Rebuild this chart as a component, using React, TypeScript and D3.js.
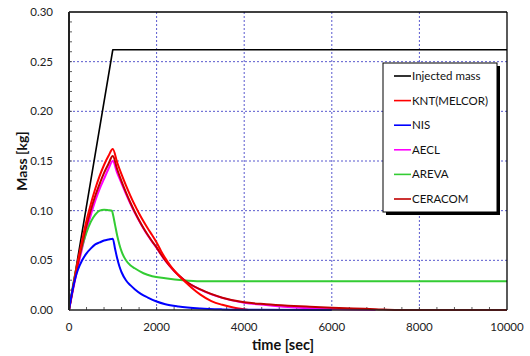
import React from "react";
import * as d3 from "d3";

const xTicks = [0, 2000, 4000, 6000, 8000, 10000];
const yTicks = [0, 0.05, 0.1, 0.15, 0.2, 0.25, 0.3];

const seriesNames = ["Injected mass", "KNT(MELCOR)", "NIS", "AECL", "AREVA", "CERACOM"];
const seriesColors = ["#000000", "#ff0000", "#0000ff", "#ff00ff", "#33cc33", "#c00000"];

const injected: [number, number][] = [[0, 0], [1000, 0.262], [10000, 0.262]];

const knt: [number, number][] = [
  [0, 0], [100, 0.025], [200, 0.049], [300, 0.07], [400, 0.09], [500, 0.107], [600, 0.122],
  [700, 0.135], [800, 0.146], [900, 0.155], [1000, 0.162], [1100, 0.1485], [1200, 0.1365],
  [1300, 0.1254], [1400, 0.1152], [1500, 0.1058], [1600, 0.0972], [1700, 0.0893],
  [1800, 0.082], [1900, 0.0753], [2000, 0.068], [2100, 0.0595], [2200, 0.052],
  [2300, 0.0455], [2400, 0.0398], [2500, 0.0348], [2650, 0.0285], [2800, 0.0225],
  [3000, 0.0155], [3250, 0.009], [3500, 0.0052], [3750, 0.0026], [4000, 0.0007], [4100, 0],
];

const ceracom: [number, number][] = [
  [0, 0], [100, 0.024], [200, 0.046], [300, 0.066], [400, 0.085], [500, 0.101], [600, 0.115],
  [700, 0.127], [800, 0.138], [900, 0.147], [1000, 0.155], [1100, 0.1417], [1200, 0.1295],
  [1300, 0.1184], [1400, 0.1082], [1500, 0.0989], [1600, 0.0904], [1700, 0.0826],
  [1800, 0.0755], [1900, 0.069], [2000, 0.063], [2100, 0.0561], [2200, 0.0499],
  [2300, 0.0444], [2400, 0.0395], [2500, 0.0352], [2650, 0.0295], [3000, 0.0207],
  [3500, 0.0124], [4000, 0.0077], [4500, 0.0058], [5000, 0.0044], [5500, 0.0033],
  [6000, 0.0023], [6500, 0.0015], [7000, 0.0008], [7500, 0], [10000, 0],
];

const aecl: [number, number][] = [
  [0, 0], [100, 0.022], [200, 0.043], [300, 0.062], [400, 0.08], [500, 0.096], [600, 0.11],
  [700, 0.122], [800, 0.132], [900, 0.142], [1000, 0.15], [1100, 0.138], [1200, 0.1275],
  [1300, 0.117], [1400, 0.1072], [1500, 0.098], [1600, 0.0898], [1700, 0.0821],
  [1800, 0.075], [1900, 0.0686], [2000, 0.0626], [2200, 0.0496], [2400, 0.0393],
  [2650, 0.0293], [3000, 0.0205], [3500, 0.0122], [4000, 0.0074], [4500, 0.005],
  [5000, 0.003], [6000, 0.001], [7000, 0],
];

const nis: [number, number][] = [
  [0, 0], [50, 0.013], [100, 0.024], [150, 0.033], [200, 0.04], [300, 0.05], [400, 0.057],
  [500, 0.062], [600, 0.066], [700, 0.068], [800, 0.07], [900, 0.071], [1000, 0.0718],
  [1050, 0.062], [1100, 0.052], [1150, 0.044], [1200, 0.038], [1300, 0.03], [1400, 0.025],
  [1500, 0.021], [1650, 0.016], [1800, 0.0125], [2000, 0.0085], [2200, 0.0058],
  [2500, 0.0035], [3000, 0.0015], [3500, 0.0006], [4000, 0.0002], [6000, 0],
];

const areva: [number, number][] = [
  [0, 0], [50, 0.014], [100, 0.027], [150, 0.038], [200, 0.048], [300, 0.064], [400, 0.078],
  [500, 0.089], [600, 0.096], [700, 0.1], [800, 0.101], [900, 0.1005], [980, 0.1],
  [1000, 0.097], [1050, 0.086], [1100, 0.075], [1150, 0.066], [1200, 0.059], [1300, 0.05],
  [1400, 0.045], [1500, 0.042], [1700, 0.037], [1900, 0.034], [2200, 0.032], [2600, 0.03],
  [3000, 0.029], [10000, 0.029],
];

const W = 530;
const H = 356;
const M = { left: 69, right: 507, top: 12, bottom: 310 };

export default function App() {
  const x = d3.scaleLinear().domain([0, 10000]).range([M.left, M.right]);
  const y = d3.scaleLinear().domain([0, 0.3]).range([M.bottom, M.top]);
  const smooth = d3
    .line<[number, number]>()
    .x((d) => x(d[0]))
    .y((d) => y(d[1]))
    .curve(d3.curveMonotoneX);
  const straight = d3
    .line<[number, number]>()
    .x((d) => x(d[0]))
    .y((d) => y(d[1]));

  const xMinor = d3.range(400, 10000, 400);
  const yMinor = d3.range(1, 30).map((i) => i / 100);
  const fmtY = d3.format(".2f");

  const draws: { data: [number, number][]; color: string; w: number; lin?: boolean }[] = [
    { data: injected, color: seriesColors[0], w: 1.6, lin: true },
    { data: aecl, color: seriesColors[3], w: 2 },
    { data: areva, color: seriesColors[4], w: 2 },
    { data: ceracom, color: seriesColors[5], w: 2 },
    { data: knt, color: seriesColors[1], w: 2 },
    { data: nis, color: seriesColors[2], w: 2 },
  ];

  const font = "Lato, 'Open Sans', sans-serif";
  const legX = 383;
  const legY = 63;
  const legW = 114;
  const legH = 149;

  return (
    <svg
      width={W}
      height={H}
      style={{ position: "absolute", left: 0, top: 0, background: "#fff" }}
      fontFamily={font}
    >
      <rect x={0} y={0} width={W} height={H} fill="#fff" />
      {xTicks.slice(1, -1).map((t) => (
        <line key={"gx" + t} x1={x(t)} x2={x(t)} y1={M.top} y2={M.bottom}
          stroke="#4646c8" strokeWidth={0.9} strokeDasharray="2,2" />
      ))}
      {yTicks.slice(1, -1).map((t) => (
        <line key={"gy" + t} x1={M.left} x2={M.right} y1={y(t)} y2={y(t)}
          stroke="#4646c8" strokeWidth={0.9} strokeDasharray="2,2" />
      ))}
      {xMinor.map((t) => (
        <line key={"mx" + t} x1={x(t)} x2={x(t)} y1={M.bottom} y2={M.bottom - 3}
          stroke="#333" strokeWidth={0.8} />
      ))}
      {yMinor.map((t) => (
        <line key={"my" + t} x1={M.left} x2={M.left + 3} y1={y(t)} y2={y(t)}
          stroke="#333" strokeWidth={0.8} />
      ))}
      {draws.map((s, i) => (
        <path key={i} d={(s.lin ? straight(s.data) : smooth(s.data)) || ""} fill="none"
          stroke={s.color} strokeWidth={s.w} strokeLinejoin="round" />
      ))}
      <line x1={M.left} x2={M.right} y1={M.top} y2={M.top} stroke="#000" strokeWidth={1.3} />
      <line x1={M.right} x2={M.right} y1={M.top} y2={M.bottom} stroke="#000" strokeWidth={1.3} />
      <line x1={M.left} x2={M.right} y1={M.bottom} y2={M.bottom} stroke="#222" strokeWidth={1.6} />
      <line x1={M.left} x2={M.left} y1={M.top} y2={M.bottom} stroke="#222" strokeWidth={2} />
      {yTicks.map((t) => (
        <text key={"ly" + t} x={53} y={y(t)} dy="0.35em" textAnchor="end"
          fontSize={11.5} fill="#222">{fmtY(t)}</text>
      ))}
      {xTicks.map((t) => (
        <text key={"lx" + t} x={x(t)} y={327} dy="0.35em" textAnchor="middle"
          fontSize={11.5} fill="#222">{String(t)}</text>
      ))}
      <text x={283} y={345} dy="0.35em" textAnchor="middle" fontSize={14.5}
        fontWeight="bold" fill="#111">time [sec]</text>
      <text transform={`translate(22,161) rotate(-90)`} dy="0.35em" textAnchor="middle"
        fontSize={14} fontWeight="bold" fill="#111">Mass [kg]</text>
      <rect x={legX + 3} y={legY + 3} width={legW} height={legH} fill="#000" />
      <rect x={legX} y={legY} width={legW} height={legH} fill="#fff" stroke="#000" strokeWidth={1} />
      {seriesNames.map((n, i) => {
        const yy = legY + 13 + i * 24.6;
        return (
          <g key={n}>
            <line x1={394} x2={411} y1={yy} y2={yy} stroke={seriesColors[i]} strokeWidth={1.6} />
            <text x={412} y={yy} dy="0.35em" fontSize={11.5} fill="#111">{n}</text>
          </g>
        );
      })}
    </svg>
  );
}
